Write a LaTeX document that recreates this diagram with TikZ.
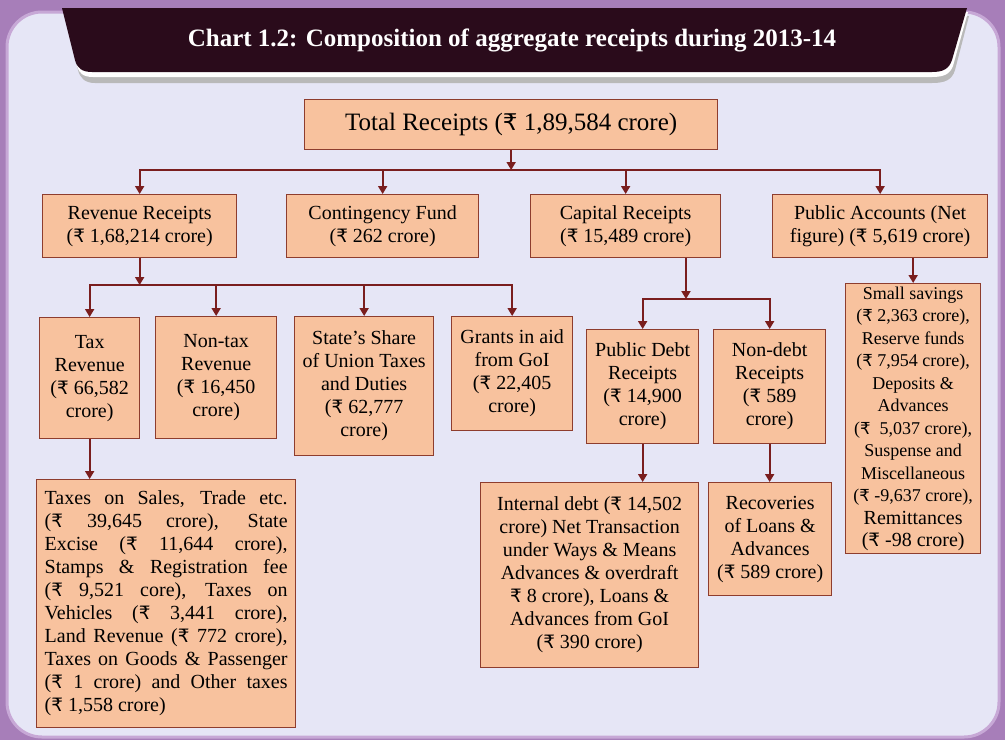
\documentclass[tikz,border=0pt]{standalone}
\usepackage{fontspec}
\setmainfont{Liberation Serif}
\newfontfamily\rupeefont[Scale=0.92]{DejaVu Sans}
\newcommand{\rupee}{{\rupeefont ₹}}
\usetikzlibrary{arrows.meta}
\definecolor{framepurple}{HTML}{A77EB9}
\definecolor{framelight}{HTML}{C7A8D6}
\definecolor{panel}{HTML}{E6E6F6}
\definecolor{banner}{HTML}{2A0B1B}
\definecolor{boxfill}{HTML}{F8C29E}
\definecolor{boxline}{HTML}{8E3D2E}
\definecolor{arrowred}{HTML}{7A1E1E}
\begin{document}
\begin{tikzpicture}[x=1pt, y=-1pt,
    box/.style={draw=boxline, fill=boxfill, line width=1.3pt, rectangle, anchor=north west,
        align=center, inner sep=0pt, font=\fontsize{20}{23}\selectfont},
    link/.style={draw=arrowred, line width=1.8pt, line cap=rect},
    arr/.style={draw=arrowred, line width=1.8pt, -{Triangle[length=8pt, width=9pt]}}]
    \useasboundingbox (0,0) rectangle (1005,740);
    \fill[framepurple] (0,0) rectangle (1005,740);
    \draw[rounded corners=35pt, fill=panel, draw=framelight, line width=3pt] (7,12) rectangle (999,737);

    \fill[gray!55] (66,16) -- (969,16) -- (955,70) .. controls (952,80) and (945,83) .. (932,83) -- (95,83) .. controls (85,83) and (80,78) .. (78,70) -- cycle;
    \fill[white] (64,12) -- (968,12) -- (953,66) .. controls (950,74) and (944,77) .. (932,77) -- (93,77) .. controls (83,77) and (79,73) .. (77,66) -- cycle;
    \fill[banner] (62,8) -- (967,8) -- (952,60) .. controls (949,69) and (943,72) .. (932,72) -- (92,72) .. controls (82,72) and (77,68) .. (75,60) -- cycle;
    \node[text=white, font=\bfseries\fontsize{25}{30}\selectfont] (title) at (512,40) {Chart 1.2: Composition of aggregate receipts during 2013-14};

    \node[box, minimum width=413pt, minimum height=50pt, font=\fontsize{25}{30}\selectfont] (total) at (304,99) {Total Receipts (\rupee{} 1,89,584 crore)};

    \node[box, minimum width=194pt, minimum height=63pt] (rev) at (42,194) {Revenue Receipts\\(\rupee{} 1,68,214 crore)};
    \node[box, minimum width=192pt, minimum height=63pt] (cont) at (286,194) {Contingency Fund\\(\rupee{} 262 crore)};
    \node[box, minimum width=190pt, minimum height=63pt] (cap) at (530,194) {Capital Receipts\\(\rupee{} 15,489 crore)};
    \node[box, minimum width=215pt, minimum height=63pt] (pub) at (772,194) {Public Accounts (Net\\figure) (\rupee{} 5,619 crore)};

    \node[box, minimum width=100pt, minimum height=121pt] (tax) at (39,317) {Tax\\Revenue\\(\rupee{} 66,582\\crore)};
    \node[box, minimum width=121pt, minimum height=122pt] (nontax) at (155,316) {Non-tax\\Revenue\\(\rupee{} 16,450\\crore)};
    \node[box, minimum width=139pt, minimum height=139pt] (share) at (294,316) {State’s Share\\of Union Taxes\\and Duties\\(\rupee{} 62,777\\crore)};
    \node[box, minimum width=121pt, minimum height=114pt] (grants) at (451,316) {Grants in aid\\from GoI\\(\rupee{} 22,405\\crore)};
    \node[box, minimum width=112pt, minimum height=114pt] (pdebt) at (586,329) {Public Debt\\Receipts\\(\rupee{} 14,900\\crore)};
    \node[box, minimum width=112pt, minimum height=114pt] (ndebt) at (713,329) {Non-debt\\Receipts\\(\rupee{} 589\\crore)};
    \node[box, minimum width=135pt, minimum height=270pt, font=\fontsize{18}{22.5}\selectfont] (pubdet) at (845,283) {Small savings\\(\rupee{} 2,363 crore),\\Reserve funds\\(\rupee{} 7,954 crore),\\Deposits \&\\Advances\\(\rupee{} ~5,037 crore),\\Suspense and\\Miscellaneous\\(\rupee{} -9,637 crore),\\{\fontsize{20}{22.5}\selectfont Remittances}\\{\fontsize{20}{22.5}\selectfont (\rupee{} -98 crore)}};

    \node[box, minimum width=259pt, minimum height=248pt, text width=243pt, align=justify] (taxdet) at (36,479) {\noindent Taxes on Sales, Trade etc.\linebreak (\rupee{} 39,645 crore), State\linebreak Excise (\rupee{} 11,644 crore),\linebreak Stamps \& Registration fee\linebreak (\rupee{} 9,521 core), Taxes on\linebreak Vehicles (\rupee{} 3,441 crore),\linebreak Land Revenue (\rupee{} 772 crore),\linebreak Taxes on Goods \& Passenger\linebreak (\rupee{} 1 crore) and Other taxes\linebreak (\rupee{} 1,558 crore)};
    \node[box, minimum width=218pt, minimum height=185pt] (intdebt) at (480,482) {Internal debt (\rupee{} 14,502\\crore) Net Transaction\\under Ways \& Means\\Advances \& overdraft\\\rupee{} 8 crore), Loans \&\\Advances from GoI\\(\rupee{} 390 crore)};
    \node[box, minimum width=123pt, minimum height=113pt] (recov) at (708,482) {Recoveries\\of Loans \&\\Advances\\(\rupee{} 589 crore)};

    \coordinate (topbus) at (0,170);
    \draw[arr] (total.south) -- (total.south |- topbus);
    \draw[link] (rev.north |- topbus) -- (pub.north |- topbus);
    \foreach \n in {rev,cont,cap,pub}
        \draw[arr] (\n.north |- topbus) -- (\n.north);

    \coordinate (revbus) at (0,285);
    \draw[arr] (rev.south) -- (rev.south |- revbus);
    \draw[link] (tax.north |- revbus) -- (grants.north |- revbus);
    \foreach \n in {tax,nontax,share,grants}
        \draw[arr] (\n.north |- revbus) -- (\n.north);

    \coordinate (capbus) at (686,299);
    \draw[arr] (cap.south -| capbus) -- (capbus);
    \draw[link] (pdebt.north |- capbus) -- (ndebt.north |- capbus);
    \foreach \n in {pdebt,ndebt}
        \draw[arr] (\n.north |- capbus) -- (\n.north);

    \draw[arr] (pub.south -| pubdet.north) -- (pubdet.north);
    \draw[arr] (tax.south) -- (tax.south |- taxdet.north);
    \draw[arr] (pdebt.south) -- (pdebt.south |- intdebt.north);
    \draw[arr] (ndebt.south) -- (ndebt.south |- recov.north);
\end{tikzpicture}
\end{document}
